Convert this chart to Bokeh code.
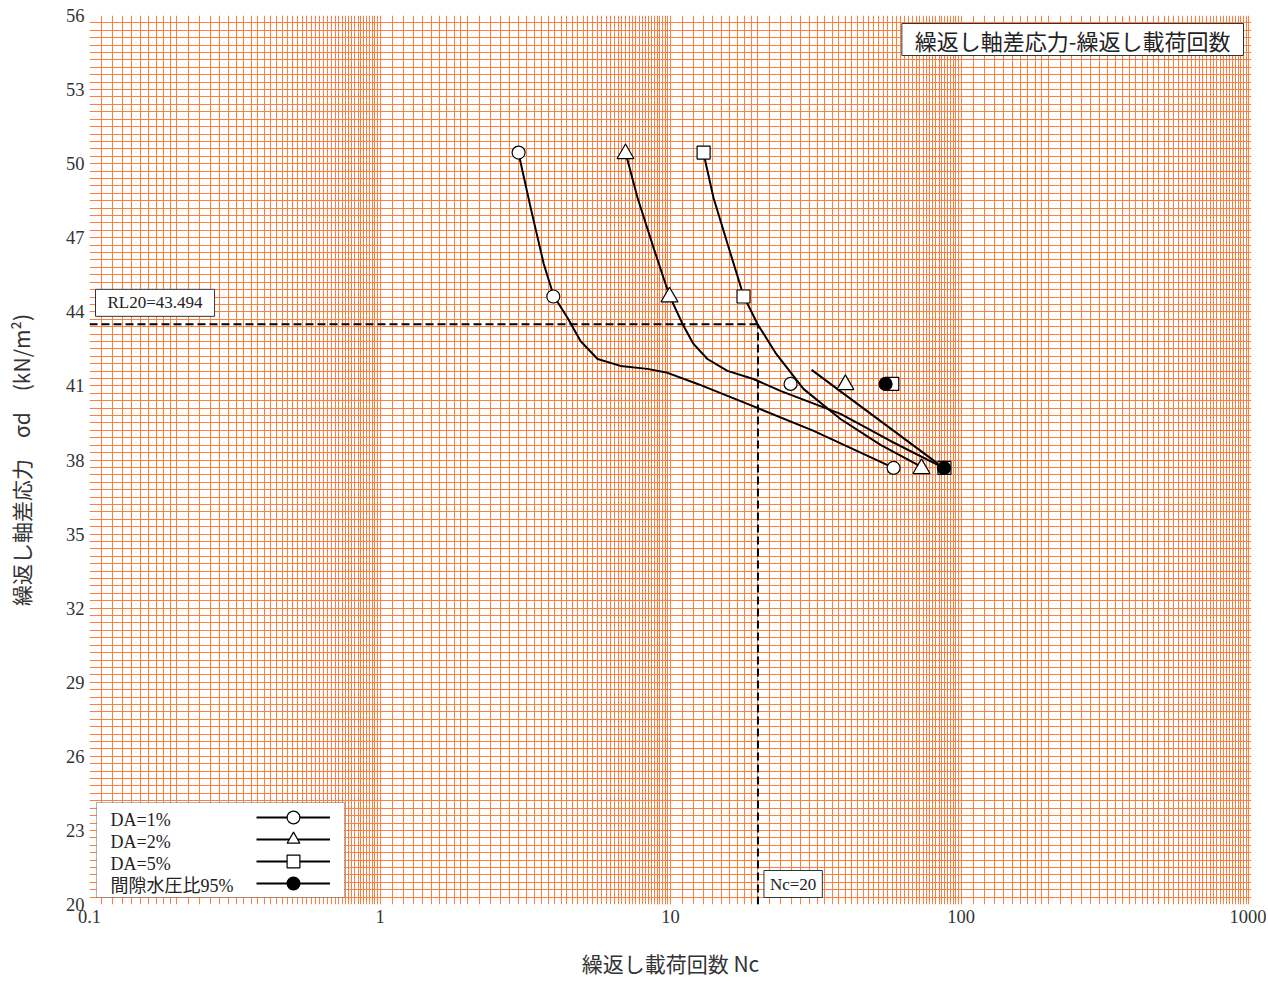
import numpy as np
from bokeh.plotting import figure
from bokeh.models import (FixedTicker, Label, Legend, LegendItem, BoxAnnotation, Range1d)
from bokeh.core.properties import value
from bokeh.embed import file_html
from bokeh.resources import INLINE

# ---------------- data ----------------
# test points  (Nc = cycles, S = cyclic deviator stress kN/m2)
da1_n = [3.0, 3.95, 25.9, 58.6]
da1_s = [50.45, 44.62, 41.08, 37.68]
da2_n = [7.0, 9.92, 40.0, 73.1]
da2_s = [50.40, 44.60, 41.05, 37.65]
da5_n = [13.0, 17.84, 58.0, 87.7]
da5_s = [50.45, 44.62, 41.08, 37.68]
pp95_n = [55.0, 87.4]
pp95_s = [41.08, 37.68]

# fitted curves
curve1_n = [3.0, 3.30, 3.66, 3.96, 4.42, 4.90, 5.61, 6.73, 8.33, 9.77, 12.4, 18.4, 31.1, 58.6]
curve1_s = [50.41, 48.22, 45.95, 44.65, 43.76, 42.82, 42.09, 41.81, 41.69, 41.53, 41.08, 40.27, 39.18, 37.68]
curve2_n = [7.0, 7.70, 8.74, 9.92, 11.0, 12.0, 13.4, 15.7, 19.3, 23.9, 38.5, 57.2, 87.1]
curve2_s = [50.45, 48.62, 46.60, 44.65, 43.51, 42.70, 42.09, 41.61, 41.28, 40.80, 39.87, 38.77, 37.68]
curve5_n = [13.0, 14.06, 15.71, 17.84, 19.93, 22.98, 28.69, 38.48, 52.84, 73.1]
curve5_s = [50.41, 48.62, 46.76, 44.65, 43.51, 42.34, 40.88, 39.66, 38.61, 37.72]
line95_n = [30.6, 87.1]
line95_s = [41.65, 37.68]

rl20 = 43.494
nc = 20

# axes
x_ticks = [0.1, 1, 10, 100, 1000]
x_tick_labels = ["0.1", "1", "10", "100", "1000"]
y_ticks = [20, 23, 26, 29, 32, 35, 38, 41, 44, 47, 50, 53, 56]

# graph-paper grid
grid_mantissa = [1.0, 1.1, 1.2, 1.3, 1.4, 1.5, 1.6, 1.7, 1.8, 1.9, 2.0,
                 2.2, 2.4, 2.6, 2.8, 3.0, 3.2, 3.4, 3.6, 3.8, 4.0,
                 4.2, 4.4, 4.6, 4.8, 5.0, 5.2, 5.4, 5.6, 5.8, 6.0,
                 6.2, 6.4, 6.6, 6.8, 7.0, 7.2, 7.4, 7.6, 7.8, 8.0,
                 8.2, 8.4, 8.6, 8.8, 9.0, 9.2, 9.4, 9.6, 9.8]
grid_decades = [0.1, 1, 10, 100]
y_grid_step = 0.3

legend_labels = ["DA=1%", "DA=2%", "DA=5%", "間隙水圧比95%"]
title_text = "繰返し軸差応力-繰返し載荷回数"
x_title = "繰返し載荷回数 Nc"
y_title = "繰返し軸差応力　σd　(kN/m²)"

# ---------------- figure ----------------
LAT = "'Liberation Serif', 'Noto Sans CJK JP'"
CJK = "'Noto Sans CJK JP', 'Liberation Serif'"
GRID = "#ff7f3f"

p = figure(width=1266, height=980, x_axis_type="log",
           x_range=Range1d(0.1, 1000), y_range=Range1d(20, 56),
           output_backend="svg", toolbar_location=None,
           min_border_left=89, min_border_right=15, min_border_top=15, min_border_bottom=76)
p.outline_line_color = None
p.background_fill_color = "white"
p.border_fill_color = "white"

xg = sorted(set([round(d * m, 6) for d in grid_decades for m in grid_mantissa] + [1000.0]))
yg = [round(20 + y_grid_step * k, 4) for k in range(int(round((56 - 20) / y_grid_step)) + 1)]
p.xgrid.ticker = FixedTicker(ticks=xg)
p.ygrid.ticker = FixedTicker(ticks=yg)
for g in (p.xgrid, p.ygrid):
    g.grid_line_color = GRID
    g.grid_line_width = 1
    g.grid_line_alpha = 1.0

# axes
p.xaxis.ticker = FixedTicker(ticks=x_ticks)
p.xaxis.major_label_overrides = {v: t for v, t in zip(x_ticks, x_tick_labels)}
p.yaxis.ticker = FixedTicker(ticks=y_ticks)
for ax in (p.xaxis, p.yaxis):
    ax.axis_line_color = None
    ax.major_tick_line_color = None
    ax.minor_tick_line_color = None
    ax.major_tick_out = 0
    ax.major_tick_in = 0
    ax.minor_tick_out = 0
    ax.minor_tick_in = 0
    ax.major_label_text_font = LAT
    ax.major_label_text_font_size = "18.5px"
    ax.major_label_text_color = "#333333"
    ax.axis_label_text_font = CJK
    ax.axis_label_text_font_size = "21px"
    ax.axis_label_text_font_style = "normal"
    ax.axis_label_text_color = "#333333"
p.yaxis.major_label_standoff = 5
p.yaxis.axis_label = y_title
p.yaxis.axis_label_standoff = 27
p.xaxis.major_label_standoff = 5
p.xaxis.axis_label = x_title
p.xaxis.axis_label_standoff = 22

# reference dashed lines
p.line([0.1, nc], [rl20, rl20], line_color="black", line_width=2, line_dash="8 4")
p.line([nc, nc], [20, rl20], line_color="black", line_width=2, line_dash="8 4")

# fitted curves
c1 = p.line(curve1_n, curve1_s, line_color="black", line_width=2)
c2 = p.line(curve2_n, curve2_s, line_color="black", line_width=2)
c5 = p.line(curve5_n, curve5_s, line_color="black", line_width=2)
c95 = p.line(line95_n, line95_s, line_color="black", line_width=2)

# markers
m1 = p.scatter(da1_n, da1_s, marker="circle", size=13, fill_color="white", line_color="black", line_width=1.2)
m2 = p.scatter(da2_n, da2_s, marker="triangle", size=17, fill_color="white", line_color="black", line_width=1.2)
m5 = p.scatter(da5_n, da5_s, marker="square", size=13, fill_color="white", line_color="black", line_width=1.2)
m95 = p.scatter(pp95_n, pp95_s, marker="circle", size=13, fill_color="black", line_color="black", line_width=1.2)

# labels with boxes
p.add_layout(Label(x=1000, y=56, text=title_text, anchor="top_right", x_offset=-8, y_offset=-8,
                   text_font=CJK, text_font_size="22px", text_color="#222222",
                   border_line_color="#333333", border_line_width=1, background_fill_color="white",
                   padding=dict(x=13, y=0)))
p.add_layout(Label(x=0.1, y=rl20, text=f"RL{nc}={rl20}", anchor="bottom_left", x_offset=6, y_offset=8,
                   text_font=LAT, text_font_size="17px", text_color="#222222",
                   border_line_color="#333333", border_line_width=1, background_fill_color="white",
                   padding=dict(x=12, y=4)))
p.add_layout(Label(x=nc, y=20, text=f"Nc={nc}", anchor="bottom_left", x_offset=6, y_offset=7,
                   text_font=LAT, text_font_size="17px", text_color="#222222",
                   border_line_color="#333333", border_line_width=1, background_fill_color="white",
                   padding=dict(x=6, y=4)))

# legend (text on the left, sample on the right)
p.add_layout(BoxAnnotation(left=7, right=255, bottom=7, top=102,
                           left_units="screen", right_units="screen",
                           bottom_units="screen", top_units="screen",
                           fill_color="white", fill_alpha=1.0, line_color="black", line_width=1))
for i, t in enumerate(legend_labels):
    p.add_layout(Label(x=21, y=85 - 22 * i, x_units="screen", y_units="screen", text=t,
                       anchor="center_left", text_font=LAT, text_font_size="18px", text_color="#222222"))
for i, rs in enumerate([[c1, m1], [c2, m2], [c5, m5], [c95, m95]]):
    leg = Legend(items=[LegendItem(label=value(""), renderers=rs)],
                 location=(167, 87 - 22 * i - 16), glyph_width=74, glyph_height=32, spacing=0,
                 padding=0, margin=0, label_width=0, label_standoff=0,
                 border_line_color=None, background_fill_alpha=0)
    p.add_layout(leg)

open("out.html", "w").write(file_html(p, INLINE))
